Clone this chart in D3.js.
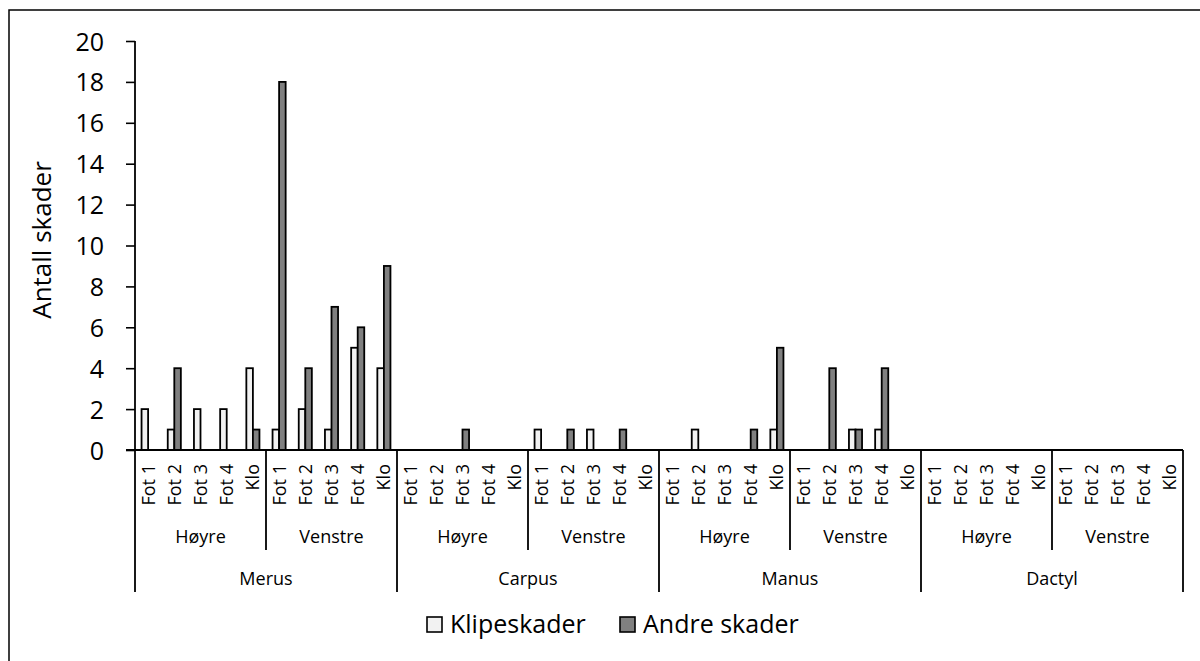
<!DOCTYPE html>
<html>
<head>
<meta charset="utf-8">
<script src="https://cdn.jsdelivr.net/npm/d3@7"></script>
<style>
  html, body { margin: 0; padding: 0; background: #fff; }
  svg { display: block; font-family: "Open Sans", sans-serif; }
</style>
</head>
<body>
<svg id="chart" width="1200" height="661"></svg>
<script>
// ---- data ----
const groups = ["Merus", "Carpus", "Manus", "Dactyl"];
const sides = ["Høyre", "Venstre"];
const parts = ["Fot 1", "Fot 2", "Fot 3", "Fot 4", "Klo"];
const seriesNames = ["Klipeskader", "Andre skader"];
// order: group -> side -> part
const klipeskader = [
  2, 1, 2, 2, 4,   1, 2, 1, 5, 4,   // Merus
  0, 0, 0, 0, 0,   1, 0, 1, 0, 0,   // Carpus
  0, 1, 0, 0, 1,   0, 0, 1, 1, 0,   // Manus
  0, 0, 0, 0, 0,   0, 0, 0, 0, 0    // Dactyl
];
const andreSkader = [
  0, 4, 0, 0, 1,   18, 4, 7, 6, 9,
  0, 0, 1, 0, 0,   0, 1, 0, 1, 0,
  0, 0, 0, 1, 5,   0, 4, 1, 4, 0,
  0, 0, 0, 0, 0,   0, 0, 0, 0, 0
];
const yTicks = [0, 2, 4, 6, 8, 10, 12, 14, 16, 18, 20];

(function () {
// ---- build rows ----
const rows = [];
groups.forEach((g, gi) => sides.forEach((s, si) => parts.forEach((p, pi) => {
  const i = gi * 10 + si * 5 + pi;
  rows.push({ id: i, group: g, side: s, part: p, k: klipeskader[i], a: andreSkader[i] });
})));

const svg = d3.select("#chart");
const pL = 135, pR = 1183, pT = 41, pB = 450;

// outer border (chart area frame, extends past the right/bottom edges)
svg.append("rect").attr("x", 9).attr("y", 10).attr("width", 1200).attr("height", 700)
  .attr("fill", "#fff").attr("stroke", "#000").attr("stroke-width", 1.5);

const x = d3.scaleBand().domain(rows.map(d => d.id)).range([pL, pR]).padding(0);
const xs = d3.scaleBand().domain(["k", "a"]).range([0, x.bandwidth()]).paddingInner(0).paddingOuter(1);
const y = d3.scaleLinear().domain([0, 20]).range([pB, pT]);

const colors = { k: "#f2f2f2", a: "#808080" };

// bars
const barG = svg.append("g");
rows.forEach(r => {
  ["k", "a"].forEach(key => {
    if (r[key] <= 0) return;
    barG.append("rect")
      .attr("x", x(r.id) + xs(key))
      .attr("y", y(r[key]))
      .attr("width", xs.bandwidth())
      .attr("height", y(0) - y(r[key]))
      .attr("fill", colors[key])
      .attr("stroke", "#000")
      .attr("stroke-width", 1.8);
  });
});

// y axis
const yAxis = d3.axisLeft(y).tickValues(yTicks).tickSize(9).tickPadding(0).tickFormat(d3.format("d"));
const yg = svg.append("g").attr("transform", `translate(${pL},0)`).call(yAxis);
yg.select(".domain").remove();
yg.selectAll(".tick line").attr("stroke", "#000").attr("stroke-width", 1.6);
yg.selectAll(".tick text")
  .attr("x", -31).attr("dy", "0.36em")
  .attr("font-family", "Open Sans").attr("font-size", 25).attr("fill", "#000");
svg.append("line").attr("x1", pL).attr("x2", pL).attr("y1", pT).attr("y2", pB)
  .attr("stroke", "#000").attr("stroke-width", 1.8);

// y axis title
svg.append("text")
  .attr("transform", `translate(51,240) rotate(-90)`)
  .attr("text-anchor", "middle")
  .attr("font-size", 26).attr("fill", "#000")
  .text("Antall skader");

// x axis line
svg.append("line").attr("x1", pL - 9).attr("x2", pR).attr("y1", pB).attr("y2", pB)
  .attr("stroke", "#000").attr("stroke-width", 1.8);

// level 1 labels
svg.append("g").selectAll("text").data(rows).join("text")
  .attr("transform", d => `translate(${x(d.id) + x.bandwidth() / 2},464) rotate(-90)`)
  .attr("text-anchor", "end")
  .attr("dy", "0.36em")
  .attr("font-size", 18).attr("fill", "#000")
  .text(d => d.part);

// level 2 labels + separators
const sideBlocks = [];
groups.forEach((g, gi) => sides.forEach((s, si) => {
  const ids = rows.filter(r => r.group === g && r.side === s).map(r => r.id);
  sideBlocks.push({ label: s, x0: x(ids[0]), x1: x(ids[ids.length - 1]) + x.bandwidth(), first: si === 0 });
}));
svg.append("g").selectAll("text").data(sideBlocks).join("text")
  .attr("x", d => (d.x0 + d.x1) / 2).attr("y", 543)
  .attr("text-anchor", "middle").attr("font-size", 18).attr("fill", "#000")
  .text(d => d.label);
svg.append("g").selectAll("line").data(sideBlocks.filter(d => !d.first)).join("line")
  .attr("x1", d => d.x0).attr("x2", d => d.x0).attr("y1", pB).attr("y2", 550)
  .attr("stroke", "#000").attr("stroke-width", 1.8);

// level 3 labels + separators
const groupBlocks = groups.map(g => {
  const ids = rows.filter(r => r.group === g).map(r => r.id);
  return { label: g, x0: x(ids[0]), x1: x(ids[ids.length - 1]) + x.bandwidth() };
});
svg.append("g").selectAll("text").data(groupBlocks).join("text")
  .attr("x", d => (d.x0 + d.x1) / 2).attr("y", 585)
  .attr("text-anchor", "middle").attr("font-size", 18).attr("fill", "#000")
  .text(d => d.label);
const gEdges = groupBlocks.map(d => d.x0).concat([groupBlocks[groupBlocks.length - 1].x1]);
svg.append("g").selectAll("line").data(gEdges).join("line")
  .attr("x1", d => d).attr("x2", d => d).attr("y1", pB).attr("y2", 592)
  .attr("stroke", "#000").attr("stroke-width", 1.8);

// legend
const legend = svg.append("g");
const legItems = [
  { key: "k", name: seriesNames[0], x: 427 },
  { key: "a", name: seriesNames[1], x: 620 }
];
legItems.forEach(it => {
  legend.append("rect").attr("x", it.x).attr("y", 617).attr("width", 15).attr("height", 15)
    .attr("fill", colors[it.key]).attr("stroke", "#000").attr("stroke-width", 1.6);
  legend.append("text").attr("x", it.x + 23).attr("y", 633)
    .attr("font-size", 25).attr("fill", "#000").text(it.name);
});
})();
</script>
</body>
</html>
